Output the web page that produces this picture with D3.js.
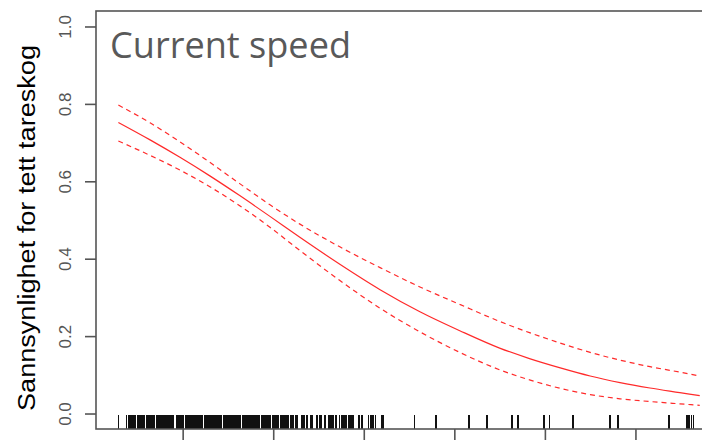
<!DOCTYPE html>
<html>
<head>
<meta charset="utf-8">
<script src="https://cdn.jsdelivr.net/npm/d3@7"></script>
<style>
  body { margin: 0; background: #fff; }
  svg { display: block; }
</style>
</head>
<body>
<div id="chart"></div>
<script>
// current speed values where the fitted curve was evaluated
const speed = [2.9, 6.4, 9.7, 13.0, 16.3, 19.6, 22.9, 27.4, 31.8, 36.2, 40.6, 45.0, 48.3, 51.7, 55.0, 58.3, 61.6, 64.9, 67.1];
const fit   = [0.752, 0.707, 0.662, 0.614, 0.563, 0.510, 0.456, 0.385, 0.320, 0.263, 0.214, 0.169, 0.142, 0.118, 0.097, 0.080, 0.066, 0.054, 0.046];
const upper = [0.797, 0.751, 0.702, 0.649, 0.594, 0.540, 0.490, 0.430, 0.377, 0.327, 0.282, 0.238, 0.209, 0.182, 0.158, 0.138, 0.121, 0.107, 0.097];
const lower = [0.704, 0.667, 0.629, 0.586, 0.537, 0.482, 0.422, 0.343, 0.272, 0.211, 0.158, 0.113, 0.087, 0.065, 0.049, 0.038, 0.031, 0.025, 0.021];

// observations along the bottom (rug)
const rug = [2.9, 3.8, 4.0, 4.2, 4.4, 4.5, 4.7, 4.8, 5.0, 5.1, 5.3, 5.5, 5.7, 5.8, 6.0, 6.1, 6.3, 6.5,
  6.6, 6.8, 6.9, 7.1, 7.2, 7.4, 7.5, 7.7, 7.8, 8.0, 8.1, 8.3, 8.4, 8.6, 8.7, 8.9, 9.0, 9.4, 9.6,
  9.8, 10.0, 10.1, 10.3, 10.4, 10.6, 10.7, 10.9, 11.0, 11.2, 11.3, 11.5, 11.6, 11.8, 11.9, 12.1, 12.2,
  12.4, 12.5, 12.7, 12.8, 13.0, 13.1, 13.3, 13.4, 13.6, 13.7, 13.9, 14.0, 14.2, 14.3, 14.5, 14.6,
  14.8, 14.9, 15.1, 15.2, 15.4, 15.5, 15.7, 15.8, 16.0, 16.1, 16.3, 16.4, 16.6, 16.7, 16.9, 17.0,
  17.2, 17.3, 17.5, 17.6, 17.8, 17.9, 18.1, 18.2, 18.4, 18.5, 18.7, 18.8, 19.0, 19.1, 19.3, 19.4,
  19.6, 19.7, 19.9, 20.0, 20.2, 20.3, 20.5, 20.6, 20.8, 21.0, 21.1, 21.3, 21.4, 21.6, 21.7, 21.9, 22.0,
  22.2, 22.5, 22.7, 23.2, 23.4, 23.7, 24.1, 24.3, 24.8, 24.9, 25.1, 25.3, 25.7, 26.1, 26.3, 26.5, 26.6,
  26.9, 27.3, 27.6, 27.7, 27.9, 28.1, 28.3, 28.4, 28.6, 28.8, 29.5, 29.8, 30.5, 30.8, 31.0, 31.3,
  32.0, 32.1, 35.6, 38.0, 41.6, 43.6, 46.4, 47.0, 49.9, 50.5, 53.1, 57.2, 58.1, 63.7, 65.7, 65.9, 66.2, 66.4];

const xTicks = [10, 20, 30, 40, 50, 60];
const yTicks = [0, 0.2, 0.4, 0.6, 0.8, 1.0];

const width = 702, height = 441;
const plot = {left: 96, top: 11, bottom: 429, right: 726};

const svg = d3.select('#chart').append('svg')
  .attr('width', width).attr('height', height)
  .attr('viewBox', `0 0 ${width} ${height}`);

const x = d3.scaleLinear().domain([0.43, 70]).range([plot.left, plot.right]);
const y = d3.scaleLinear().domain([-0.04, 1.04]).range([plot.bottom, plot.top]);

const axisColor = '#555';

// y axis, labels turned parallel to the axis
const yAxis = svg.append('g')
  .attr('transform', `translate(${plot.left},0)`)
  .call(d3.axisLeft(y).tickValues(yTicks).tickSize(11).tickFormat(d3.format('.1f')));
yAxis.select('.domain').remove();
yAxis.selectAll('.tick line').attr('stroke', axisColor).attr('stroke-width', 1.6);
yAxis.selectAll('.tick text')
  .attr('x', null).attr('dy', null)
  .attr('transform', 'translate(-25.5,0) rotate(-90)')
  .attr('text-anchor', 'middle')
  .attr('fill', '#555')
  .style('font-family', '"Liberation Sans", Arial, sans-serif')
  .style('font-size', '17px');

// x axis, labels cut off below the picture
const xAxis = svg.append('g')
  .attr('transform', `translate(0,${plot.bottom})`)
  .call(d3.axisBottom(x).tickValues(xTicks).tickSize(11).tickFormat(''));
xAxis.select('.domain').remove();
xAxis.selectAll('.tick line').attr('stroke', axisColor).attr('stroke-width', 1.6);

// rug
svg.append('g')
  .attr('shape-rendering', 'crispEdges')
  .selectAll('line').data(rug).join('line')
  .attr('x1', d => x(d)).attr('x2', d => x(d))
  .attr('y1', plot.bottom).attr('y2', plot.bottom - 14)
  .attr('stroke', '#111')
  .attr('stroke-width', 1.6);

// box
svg.append('rect')
  .attr('x', plot.left).attr('y', plot.top)
  .attr('width', plot.right - plot.left).attr('height', plot.bottom - plot.top)
  .attr('fill', 'none')
  .attr('stroke', axisColor)
  .attr('stroke-width', 1.6);

// curves
const line = d3.line()
  .x((d, i) => x(speed[i]))
  .y(d => y(d))
  .curve(d3.curveMonotoneX);

svg.append('path').datum(fit)
  .attr('d', line)
  .attr('fill', 'none').attr('stroke', '#ff2a2a').attr('stroke-width', 1.2);

[upper, lower].forEach(s => {
  svg.append('path').datum(s)
    .attr('d', line)
    .attr('fill', 'none').attr('stroke', '#ff2a2a').attr('stroke-width', 1.2)
    .attr('stroke-dasharray', '5,4');
});

// y label
svg.append('text')
  .attr('transform', `translate(34.5,${(plot.top + plot.bottom) / 2 + 8}) rotate(-90)`)
  .attr('text-anchor', 'middle')
  .attr('textLength', 366)
  .attr('lengthAdjust', 'spacingAndGlyphs')
  .style('font-family', '"Liberation Sans", Arial, sans-serif')
  .style('font-size', '23px')
  .attr('fill', '#000')
  .text('Sannsynlighet for tett tareskog');

// title
svg.append('text')
  .attr('x', 110).attr('y', 58)
  .attr('textLength', 241)
  .attr('lengthAdjust', 'spacingAndGlyphs')
  .style('font-family', '"Open Sans", sans-serif')
  .style('font-size', '37px')
  .attr('fill', '#595959')
  .text('Current speed');
</script>
</body>
</html>
